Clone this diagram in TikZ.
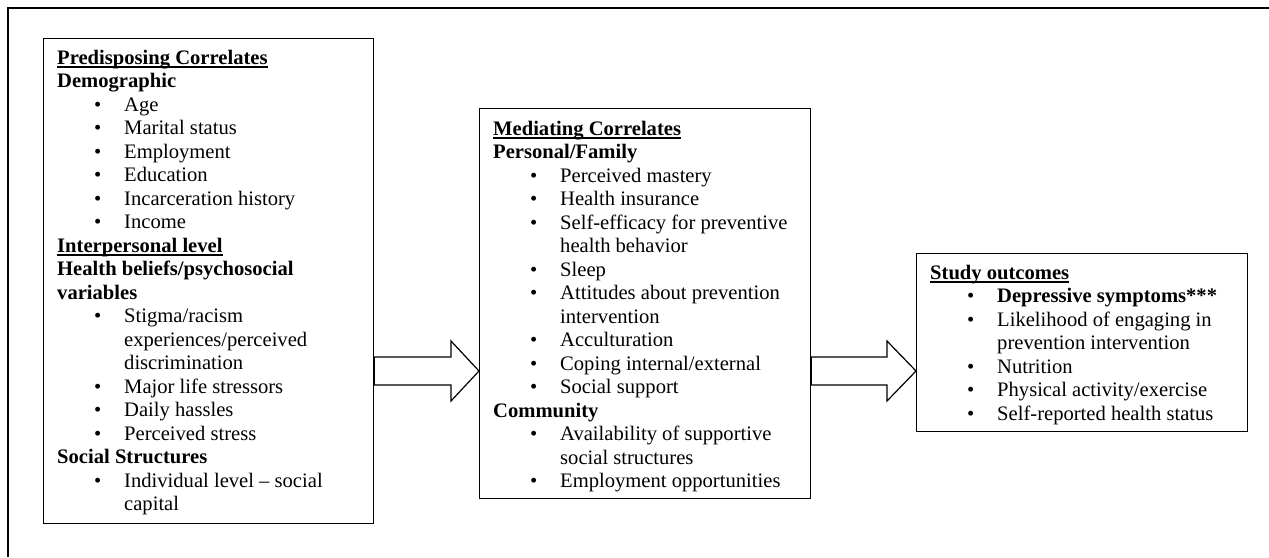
\documentclass[tikz,border=0pt]{standalone}
\usepackage{fontspec}
\setmainfont{Liberation Serif}
\usepackage{tikz}
\usetikzlibrary{calc}

% underlined heading, bulleted line and its continuation
\newsavebox{\hdbox}
\newcommand{\hd}[1]{\strut\sbox{\hdbox}{\textbf{#1}}\rlap{\rule[-3.7pt]{\wd\hdbox}{1.5pt}}\usebox{\hdbox}}
\newcommand{\bul}[1]{\hspace*{37pt}\makebox[30pt][l]{\textbullet}#1}
\newcommand{\cont}[1]{\hspace*{67pt}#1}

\begin{document}
\begin{tikzpicture}[x=1pt,y=-1pt,
  corrbox/.style={draw, line width=1.2pt, anchor=north west, inner sep=0pt},
  corrtext/.style={anchor=north west, align=left, inner sep=0pt,
    font=\fontsize{20.6}{23.5}\selectfont},
  fatarrow/.style={draw, line width=1.2pt, fill=white, line join=miter}]
\useasboundingbox (0,0) rectangle (1269,557);
% frame
\draw[line width=1.5pt] (8,557) -- (8,8) -- (1269,8);

% boxes
\node[corrbox, minimum width=330pt, minimum height=485pt] (pred) at (43,38) {};
\node[corrbox, minimum width=331pt, minimum height=390pt] (med) at (479,108) {};
\node[corrbox, minimum width=331pt, minimum height=178pt] (out) at (916,253) {};

\node[corrtext] (predtext) at ($(pred.north west)+(14,9.5)$) {%
\hd{Predisposing Correlates}\\
\textbf{Demographic}\\
\bul{Age}\\
\bul{Marital status}\\
\bul{Employment}\\
\bul{Education}\\
\bul{Incarceration history}\\
\bul{Income}\\
\hd{Interpersonal level}\\
\textbf{Health beliefs/psychosocial}\\
\textbf{variables}\\
\bul{Stigma/racism}\\
\cont{experiences/perceived}\\
\cont{discrimination}\\
\bul{Major life stressors}\\
\bul{Daily hassles}\\
\bul{Perceived stress}\\
\textbf{Social Structures}\\
\bul{Individual level -- social}\\
\cont{capital}};

\node[corrtext] (medtext) at ($(med.north west)+(14,10.5)$) {%
\hd{Mediating Correlates}\\
\textbf{Personal/Family}\\
\bul{Perceived mastery}\\
\bul{Health insurance}\\
\bul{Self-efficacy for preventive}\\
\cont{health behavior}\\
\bul{Sleep}\\
\bul{Attitudes about prevention}\\
\cont{intervention}\\
\bul{Acculturation}\\
\bul{Coping internal/external}\\
\bul{Social support}\\
\textbf{Community}\\
\bul{Availability of supportive}\\
\cont{social structures}\\
\bul{Employment opportunities}};

\node[corrtext] (outtext) at ($(out.north west)+(14,9.5)$) {%
\hd{Study outcomes}\\
\bul{\textbf{Depressive symptoms***}}\\
\bul{Likelihood of engaging in}\\
\cont{prevention intervention}\\
\bul{Nutrition}\\
\bul{Physical activity/exercise}\\
\bul{Self-reported health status}};

% arrows
\coordinate (tipa) at (med.west |- 0,371);
\coordinate (tipb) at (out.west |- 0,371);
\draw[fatarrow] (pred.east |- 0,357) -- (451,357) -- (451,341) -- (tipa)
  -- (451,401) -- (451,385) -- (pred.east |- 0,385) -- cycle;
\draw[fatarrow] (med.east |- 0,357) -- (887,357) -- (887,341) -- (tipb)
  -- (887,401) -- (887,385) -- (med.east |- 0,385) -- cycle;
\end{tikzpicture}
\end{document}
